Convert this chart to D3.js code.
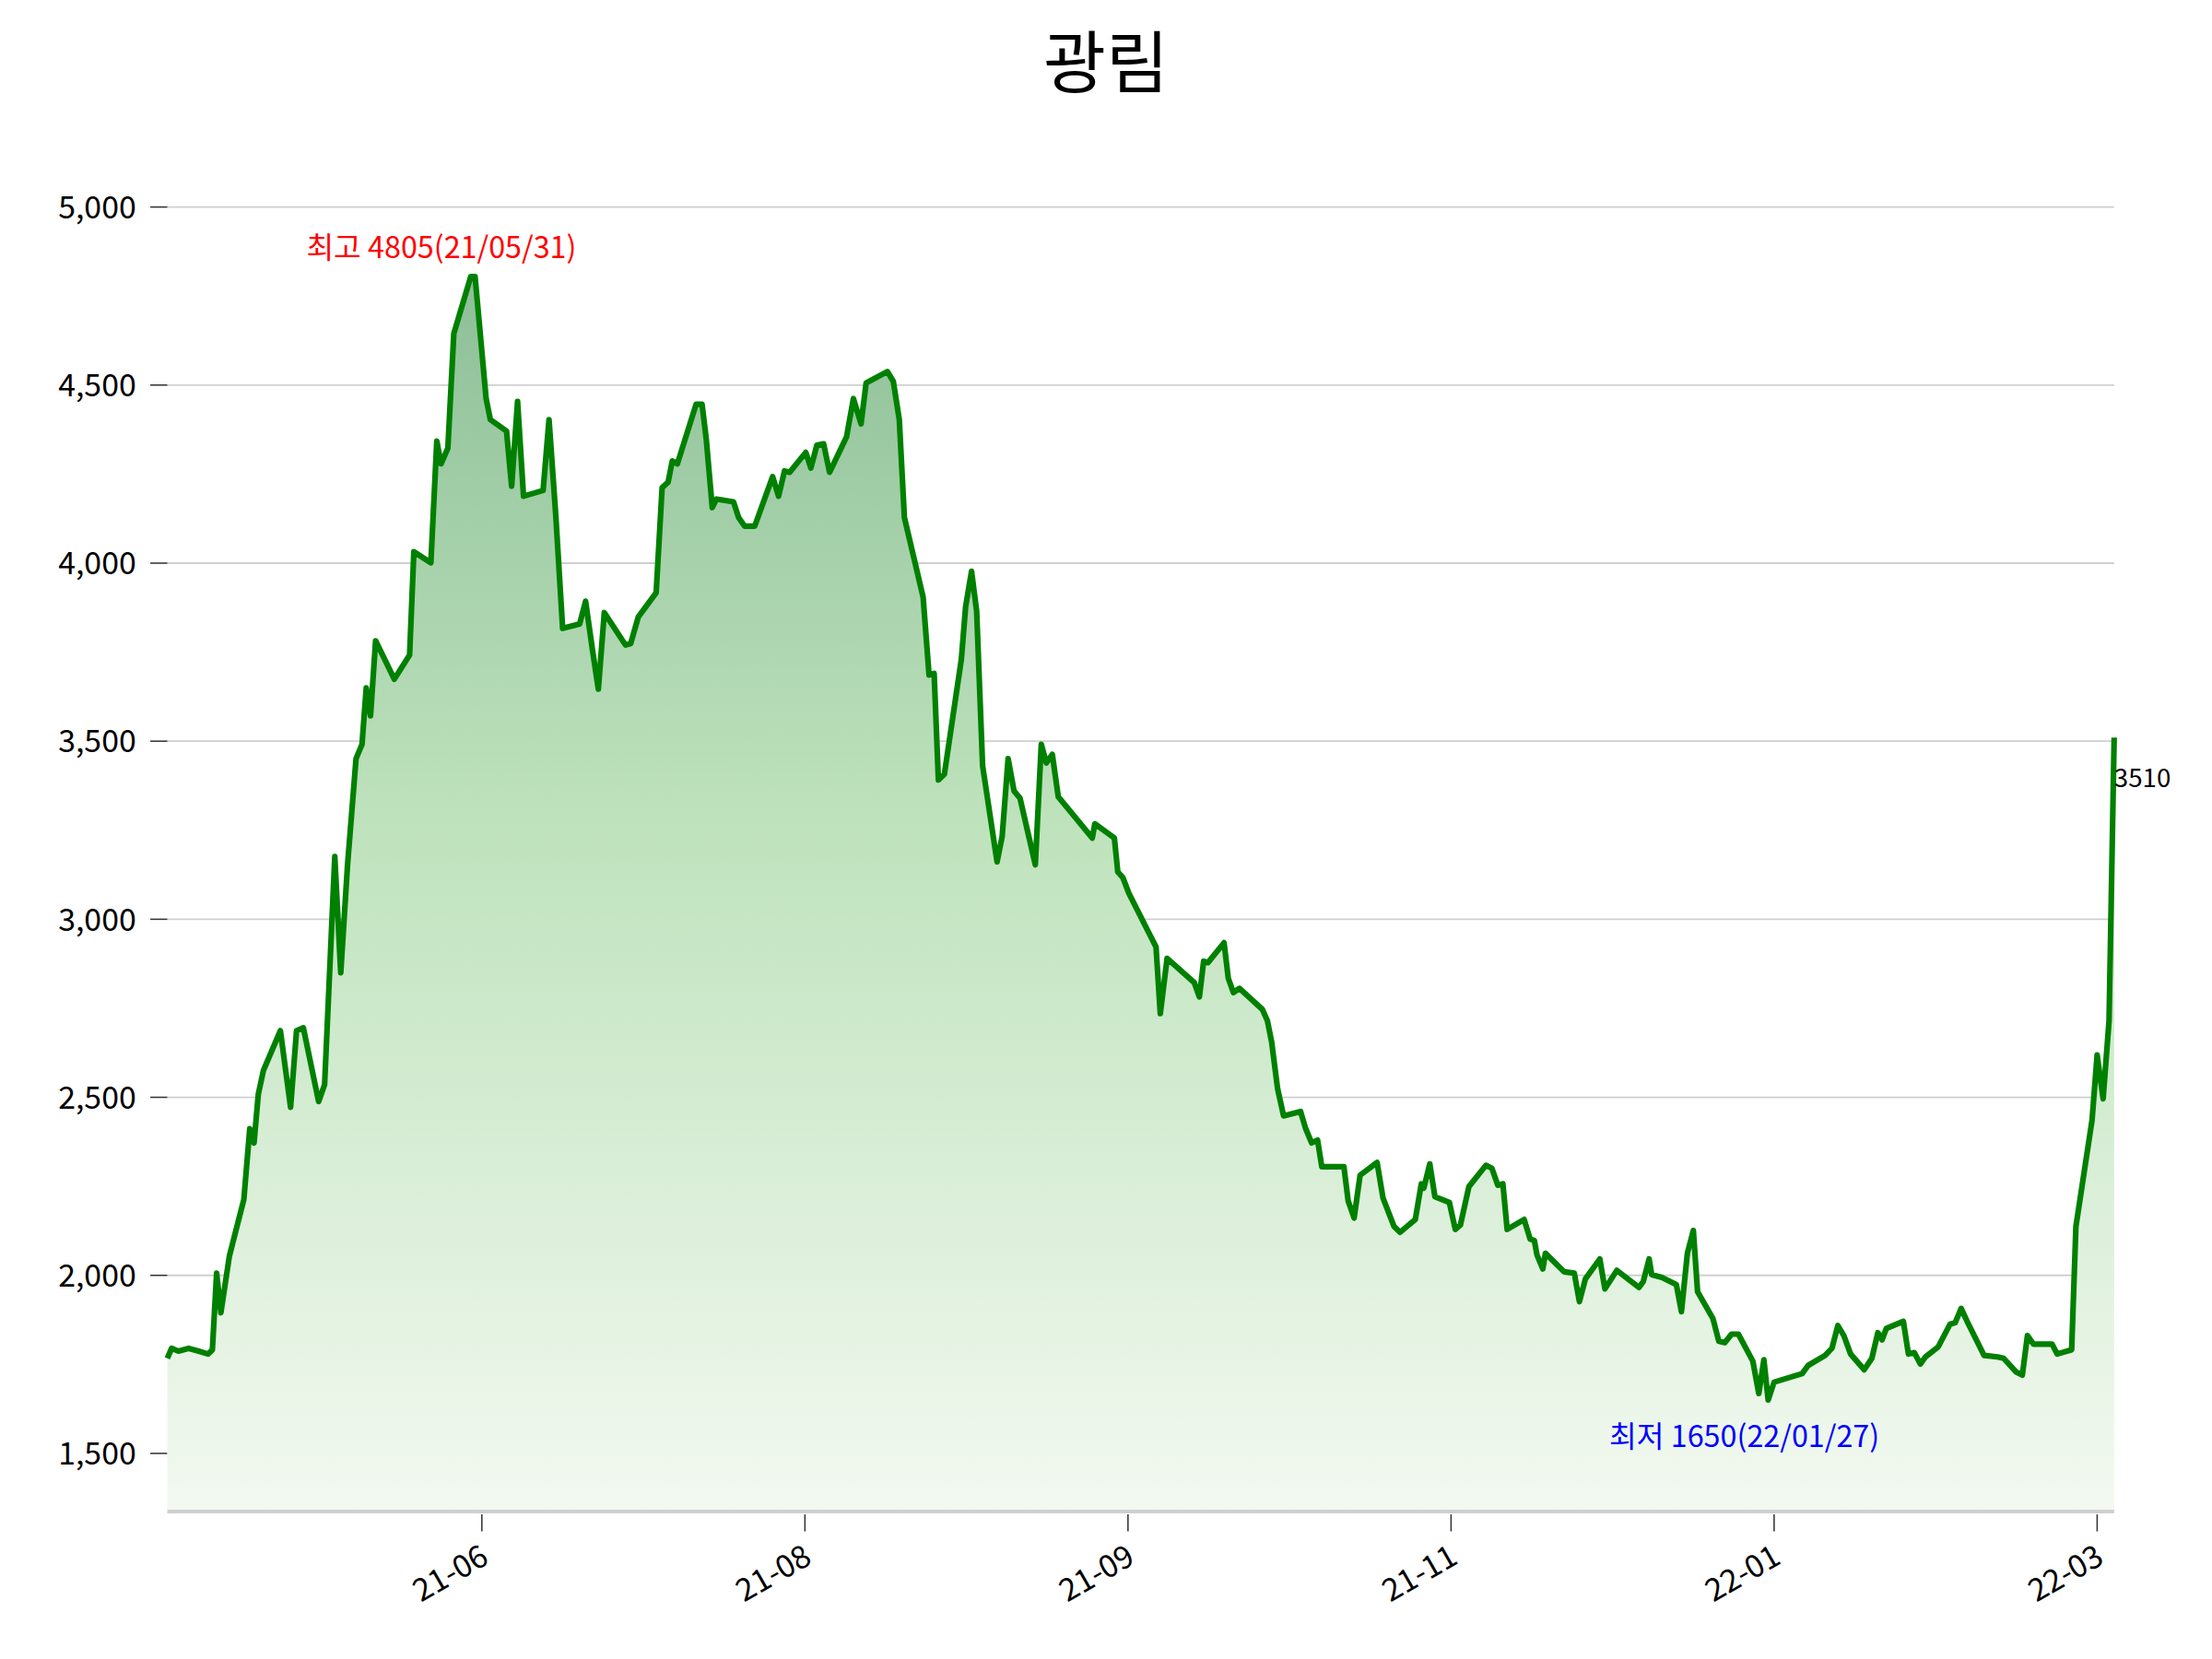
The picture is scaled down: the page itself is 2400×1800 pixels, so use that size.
<!DOCTYPE html>
<html>
<head>
<meta charset="utf-8">
<script src="https://cdnjs.cloudflare.com/ajax/libs/d3/7.8.5/d3.min.js"></script>
<style>
  body { margin: 0; background: #fff; }
  text { font-family: "Noto Sans CJK KR", "Noto Sans", sans-serif; }
</style>
</head>
<body>
<svg id="chart" width="2400" height="1800" viewBox="0 0 1560 1170"></svg>
<script>
const days = [0,0.5,1.3,2.5,3.7,4.8,5.3,5.8,6.3,7.3,9.0,9.7,10.2,10.7,11.3,13.3,14.5,15.2,16.0,17.8,18.5,19.7,20.4,21.2,22.2,22.9,23.4,23.9,24.5,26.7,28.5,29.0,31.0,31.7,32.2,33.0,33.7,35.7,36.2,37.5,38.0,39.9,40.5,41.2,41.9,44.2,44.9,45.7,46.5,48.5,49.2,50.0,50.7,51.4,53.9,54.5,55.4,57.5,58.2,58.9,59.4,60.0,62.2,62.9,63.4,64.1,64.6,66.6,67.2,67.9,69.1,71.2,71.9,72.6,73.2,75.1,75.7,76.4,77.2,77.9,79.9,80.7,81.6,82.2,84.7,85.4,86.1,86.7,88.9,89.6,90.2,90.7,91.4,93.4,93.9,94.6,95.2,95.9,97.6,98.2,98.9,99.6,100.3,102.1,102.8,103.4,104.1,104.8,108.8,109.1,111.4,111.8,112.4,113.1,116.3,116.8,117.6,120.8,121.4,121.9,122.4,124.3,124.8,125.4,126.1,128.8,129.4,129.9,130.6,131.3,133.3,133.9,134.6,135.3,135.8,138.4,138.9,139.6,140.3,142.3,143.0,144.3,145.0,146.8,147.5,147.8,148.5,149.1,150.8,151.5,152.1,153.1,155.1,155.8,156.5,157.1,157.6,159.6,160.3,160.8,161.1,161.8,162.1,164.3,165.5,166.1,166.8,168.5,169.1,170.5,173.1,173.6,174.3,174.6,175.8,177.5,178.1,178.8,179.5,180.0,181.8,182.5,183.2,184.0,184.8,186.5,187.2,187.8,188.3,189.0,192.3,193.0,195.0,195.8,196.5,197.2,198.0,199.6,200.5,201.2,201.7,202.2,204.2,204.8,205.5,206.2,206.8,208.3,209.7,210.3,211.0,211.7,213.7,215.3,216.0,217.5,218.2,218.8,219.5,221.7,222.3,224.0,224.5,226.4,227.0,227.7,228.4,229.0];
const prices = [1767,1795,1787,1795,1787,1779,1791,2006,1895,2054,2213,2412,2372,2508,2575,2687,2472,2687,2695,2488,2536,3176,2850,3153,3451,3491,3650,3571,3782,3674,3742,4032,4001,4343,4279,4323,4645,4805,4805,4462,4403,4371,4216,4454,4188,4204,4403,4132,3817,3829,3893,3758,3646,3861,3770,3774,3849,3917,4212,4227,4287,4279,4446,4446,4347,4156,4180,4172,4128,4104,4104,4243,4188,4259,4255,4311,4267,4331,4335,4255,4355,4462,4391,4506,4538,4510,4403,4128,3905,3686,3690,3391,3407,3730,3877,3977,3865,3431,3161,3232,3451,3360,3340,3153,3491,3439,3463,3344,3228,3268,3228,3133,3117,3073,2922,2735,2890,2822,2782,2882,2878,2934,2834,2794,2806,2747,2715,2655,2524,2448,2460,2412,2372,2380,2305,2305,2209,2161,2281,2317,2217,2137,2121,2157,2257,2245,2313,2221,2205,2129,2141,2249,2309,2301,2253,2257,2129,2157,2102,2098,2058,2018,2062,2010,2006,1926,1990,2046,1962,2014,1966,1982,2046,2002,1994,1974,1898,2062,2126,1954,1879,1815,1811,1835,1835,1759,1668,1763,1650,1700,1724,1747,1775,1795,1859,1831,1779,1735,1767,1839,1819,1851,1871,1779,1783,1751,1771,1799,1863,1867,1907,1871,1775,1771,1767,1728,1720,1831,1807,1807,1779,1791,2137,2436,2619,2496,2715,3510];
const tickDays = [37, 75, 113, 151, 189, 227];
const tickLabels = ['21-06', '21-08', '21-09', '21-11', '22-01', '22-03'];
const yTicks = [1500, 2000, 2500, 3000, 3500, 4000, 4500, 5000];
const title = '광림';
const maxNote = '최고 4805(21/05/31)';
const minNote = '최저 1650(22/01/27)';

const data = days.map((d, i) => ({ d: d, v: prices[i] }));
const svg = d3.select('#chart');
const left = 118, right = 1491, bottom = 1066;

const x = d3.scaleLinear().domain([0, 229]).range([left, right]);
const y = d3.scaleLinear().domain([1500, 5000]).range([1025, 146]);
const base = y.invert(bottom);

// gradient fill
const grad = svg.append('defs').append('linearGradient')
  .attr('id', 'fill').attr('x1', 0).attr('y1', 0).attr('x2', 0).attr('y2', 1);
grad.append('stop').attr('offset', '0%').attr('stop-color', '#8dbf98');
grad.append('stop').attr('offset', '45%').attr('stop-color', '#bfe3bd');
grad.append('stop').attr('offset', '100%').attr('stop-color', '#f3f9f1');

// grid + y labels
yTicks.forEach(t => {
  svg.append('line').attr('x1', left).attr('x2', right)
    .attr('y1', y(t)).attr('y2', y(t)).attr('stroke', '#cfcfcf').attr('stroke-width', 1.2);
  svg.append('line').attr('x1', left - 12).attr('x2', left)
    .attr('y1', y(t)).attr('y2', y(t)).attr('stroke', '#333').attr('stroke-width', 1);
  svg.append('text').attr('x', left - 22).attr('y', y(t) + 8)
    .attr('text-anchor', 'end').attr('font-size', 22).text(d3.format(',')(t));
});

svg.append('path').datum(data)
  .attr('fill', 'url(#fill)')
  .attr('d', d3.area().x(d => x(d.d)).y0(y(base)).y1(d => y(d.v)));

svg.append('path').datum(data)
  .attr('fill', 'none').attr('stroke', '#008000').attr('stroke-width', 4)
  .attr('stroke-linejoin', 'round')
  .attr('d', d3.line().x(d => x(d.d)).y(d => y(d.v)));

// x axis
svg.append('line').attr('x1', left).attr('x2', right)
  .attr('y1', bottom).attr('y2', bottom).attr('stroke', '#cfcfcf').attr('stroke-width', 2.5);
tickDays.forEach((t, i) => {
  svg.append('line').attr('x1', x(t)).attr('x2', x(t))
    .attr('y1', bottom + 2).attr('y2', bottom + 14).attr('stroke', '#333');
  svg.append('text')
    .attr('transform', `translate(${x(t) + 6},${bottom + 36}) rotate(-30)`)
    .attr('text-anchor', 'end').attr('font-size', 22).text(tickLabels[i]);
});

// annotations
const iMax = prices.indexOf(d3.max(prices));
const iMin = prices.indexOf(d3.min(prices));
svg.append('text').attr('x', x(days[iMax]) - 116).attr('y', y(prices[iMax]) - 13)
  .attr('fill', 'red').attr('font-size', 21).text(maxNote);
svg.append('text').attr('x', x(days[iMin]) - 112).attr('y', y(prices[iMin]) + 33)
  .attr('fill', 'blue').attr('font-size', 21).text(minNote);
const last = data[data.length - 1];
svg.append('text').attr('x', x(last.d)).attr('y', y(last.v) + 35)
  .attr('font-size', 18).text(last.v);

svg.append('text').attr('x', 780).attr('y', 62).attr('text-anchor', 'middle')
  .attr('font-size', 48).text(title);
</script>
</body>
</html>
